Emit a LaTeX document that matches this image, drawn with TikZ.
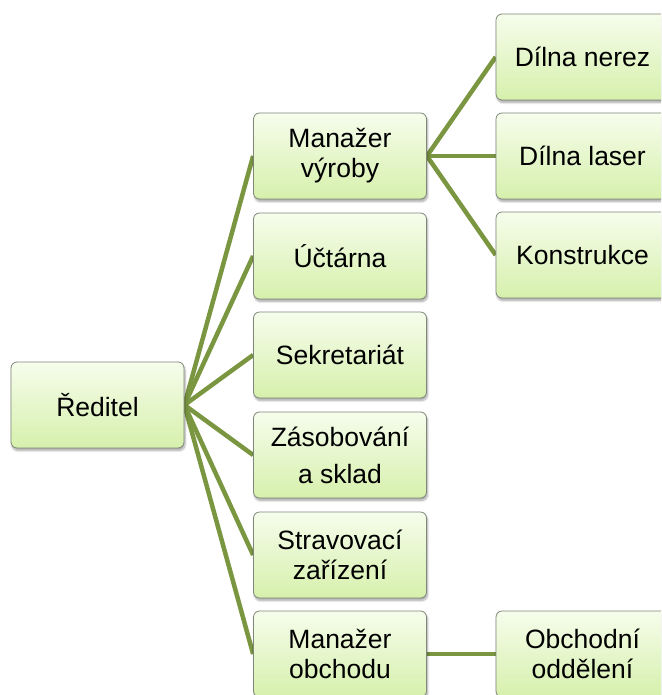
\documentclass[tikz,border=0pt]{standalone}
\usepackage{fontspec}
\setmainfont{Liberation Sans}
\usetikzlibrary{shadows.blur,backgrounds}
\definecolor{linegreen}{RGB}{122,150,64}
\definecolor{topfill}{RGB}{246,253,236}
\definecolor{botfill}{RGB}{214,240,172}
\definecolor{boxborder}{RGB}{128,134,122}
\tikzset{
  box/.style={draw=boxborder, line width=0.8pt, rounded corners=6pt,
    top color=topfill, bottom color=botfill,
    minimum width=173pt, minimum height=86pt, inner sep=0pt, align=center,
    font=\fontsize{26.5}{30}\selectfont,
    blur shadow={shadow xshift=1pt, shadow yshift=-2.5pt, shadow blur steps=6, shadow opacity=35}},
  link/.style={draw=linegreen, line width=4.5pt}
}
\begin{document}
\begin{tikzpicture}[x=1pt,y=-1pt]
\useasboundingbox (0,0) rectangle (661,695);
\clip (0,0) rectangle (661,695);
\node[box] (red) at (97.5,405) {Ředitel};
\node[box] (mv) at (340,156) {Manažer\\výroby};
\node[box] (uc) at (340,256) {Účtárna};
\node[box] (se) at (340,355) {Sekretariát};
\node[box] (za) at (340,455) {Zásobování\\[7pt]a sklad};
\node[box] (st) at (340,555) {Stravovací\\zařízení};
\node[box] (mo) at (340,654) {Manažer\\obchodu};
\node[box] (dn) at (582.5,57) {Dílna nerez};
\node[box] (dl) at (582.5,156) {Dílna laser};
\node[box] (ko) at (582.5,255) {Konstrukce};
\node[box] (oo) at (582.5,654) {Obchodní\\oddělení};
\begin{scope}[on background layer]
\foreach \t in {mv,uc,se,za,st,mo}{\draw[link] (red.east) -- (\t.west);}
\foreach \t in {dn,dl,ko}{\draw[link] (mv.east) -- (\t.west);}
\draw[link] (mo.east) -- (oo.west);
\end{scope}
\end{tikzpicture}
\end{document}
